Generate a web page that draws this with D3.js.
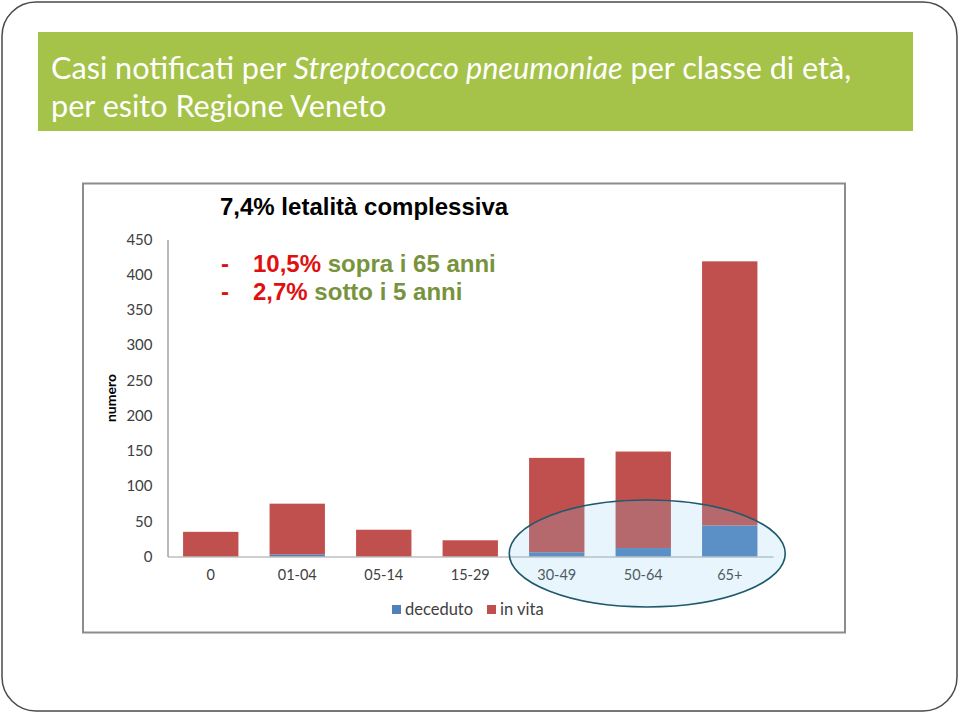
<!DOCTYPE html>
<html>
<head>
<meta charset="utf-8">
<script src="https://cdn.jsdelivr.net/npm/d3@7"></script>
<style>
  html, body { margin: 0; padding: 0; background: #fff; }
  svg { display: block; }
</style>
</head>
<body>
<svg id="chart" width="960" height="714"></svg>
<script>
// ---- data ----
const categories = ["0", "01-04", "05-14", "15-29", "30-49", "50-64", "65+"];
const deceduto   = [0, 3, 0, 0, 6, 12, 44];
const inVita     = [35, 72, 38, 23, 134, 137, 375];
const yTicks     = [0, 50, 100, 150, 200, 250, 300, 350, 400, 450];
const seriesNames = ["deceduto", "in vita"];
const seriesColors = ["#4F81BD", "#C0504D"];

const rows = categories.map((c, i) => ({cat: c, deceduto: deceduto[i], "in vita": inVita[i]}));
const stacked = d3.stack().keys(seriesNames)(rows);

const svg = d3.select("#chart");

// slide frame
svg.append("rect").attr("x", 2).attr("y", 2).attr("width", 955).attr("height", 709)
  .attr("rx", 34).attr("ry", 34).attr("fill", "#fff").attr("stroke", "#4a4a4a").attr("stroke-width", 1.5);

// title band
svg.append("rect").attr("x", 38).attr("y", 32).attr("width", 875).attr("height", 99).attr("fill", "#A5C249");
const title = svg.append("text").attr("x", 51).attr("y", 79)
  .attr("font-family", "Lato, 'Open Sans', sans-serif").attr("font-size", 30.6).attr("fill", "#fff");
title.append("tspan").text("Casi notificati per ");
title.append("tspan").attr("font-style", "italic").text("Streptococco pneumoniae");
title.append("tspan").text(" per classe di età,");
svg.append("text").attr("x", 51).attr("y", 117)
  .attr("font-family", "Lato, 'Open Sans', sans-serif").attr("font-size", 30.6).attr("fill", "#fff")
  .text("per esito Regione Veneto");

// chart frame
svg.append("rect").attr("x", 83).attr("y", 183.5).attr("width", 762).attr("height", 449)
  .attr("fill", "#fff").attr("stroke", "#8c8c8c").attr("stroke-width", 2);

// scales
const x = d3.scaleBand().domain(categories).range([167.5, 773]).paddingInner(0.36).paddingOuter(0.18);
const y = d3.scaleLinear().domain([0, 450]).range([556.5, 239.5]);

// bars
svg.append("g").selectAll("g").data(stacked).join("g")
  .attr("fill", (d, i) => seriesColors[i])
  .selectAll("rect").data(d => d).join("rect")
  .attr("x", d => x(d.data.cat))
  .attr("width", x.bandwidth())
  .attr("y", d => y(d[1]))
  .attr("height", d => y(d[0]) - y(d[1]));

// y axis
const yAxis = svg.append("g").attr("transform", "translate(167.5,0)")
  .call(d3.axisLeft(y).tickValues(yTicks).tickSize(0).tickPadding(15));
yAxis.select(".domain").attr("stroke", "#8c8c8c").attr("stroke-width", 1.2);
yAxis.selectAll("text").attr("font-family", "Lato, sans-serif").attr("font-size", 15).attr("fill", "#404040");

// x axis
const xAxis = svg.append("g").attr("transform", `translate(0,${y(0)})`)
  .call(d3.axisBottom(x).tickSize(0).tickPadding(13));
xAxis.select(".domain").attr("stroke", "#a0a0a0").attr("stroke-width", 1.2);
xAxis.selectAll("text").attr("font-family", "Lato, sans-serif").attr("font-size", 14.5).attr("fill", "#404040");

// y axis title
svg.append("text").attr("transform", `translate(116,${(y(0) + y(450)) / 2}) rotate(-90)`)
  .attr("text-anchor", "middle").attr("font-family", "Lato, sans-serif").attr("font-weight", "bold")
  .attr("font-size", 14).attr("fill", "#000").text("numero");

// legend
const legend = svg.append("g").attr("transform", "translate(392,605)");
const legItems = legend.selectAll("g").data(seriesNames).join("g")
  .attr("transform", (d, i) => `translate(${i * 95},0)`);
legItems.append("rect").attr("width", 9).attr("height", 9).attr("fill", (d, i) => seriesColors[i]);
legItems.append("text").attr("x", 13).attr("y", 10).attr("font-family", "Lato, sans-serif")
  .attr("font-size", 16.5).attr("fill", "#404040").text(d => d);

// annotation text
const ann = svg.append("g").attr("font-family", "'Liberation Sans', Arial, sans-serif").attr("font-weight", "bold");
ann.append("text").attr("x", 220).attr("y", 215).attr("font-size", 24).attr("fill", "#000")
  .text("7,4% letalità complessiva");
const lines = [["10,5%", " sopra i 65 anni", 272], ["2,7%", " sotto i 5 anni", 300]];
lines.forEach(l => {
  ann.append("text").attr("x", 221).attr("y", l[2]).attr("font-size", 24).attr("fill", "#E01010").text("-");
  const t = ann.append("text").attr("x", 253).attr("y", l[2]).attr("font-size", 24);
  t.append("tspan").attr("fill", "#E01010").text(l[0]);
  t.append("tspan").attr("fill", "#77933C").text(l[1]);
});

// highlight ellipse
svg.append("ellipse")
  .attr("cx", x("50-64") + x.bandwidth() / 2 + 4)
  .attr("cy", y(0) - 3)
  .attr("rx", 138).attr("ry", 53.5)
  .attr("fill", "rgb(140,205,238)").attr("fill-opacity", 0.2)
  .attr("stroke", "#1E5A6C").attr("stroke-width", 1.6);
</script>
</body>
</html>
